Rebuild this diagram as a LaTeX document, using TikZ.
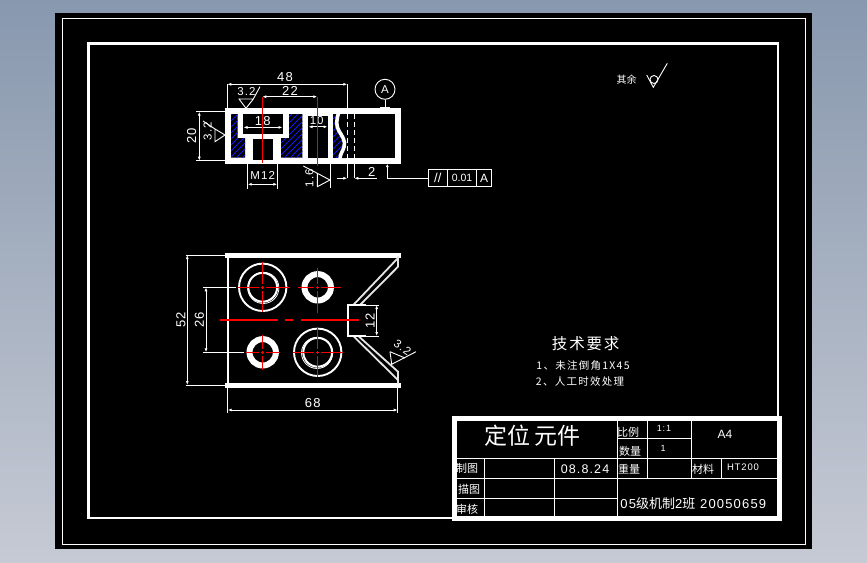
\documentclass[tikz,border=0pt]{standalone}
\usepackage{fontspec}
\setmainfont{Liberation Sans}
\newfontfamily\spaced[LetterSpace=9]{Liberation Sans}
\newfontfamily\cjk{Noto Sans CJK SC}
\newfontfamily\cjksp[LetterSpace=12]{Noto Sans CJK SC}
\usetikzlibrary{arrows.meta}
\definecolor{bgtop}{HTML}{8898AE}
\definecolor{bgbot}{HTML}{C6CAD4}
\definecolor{hatchblue}{HTML}{1414FF}
\tikzset{
  thinw/.style={draw=white,line width=0.9pt},
  band/.style={draw=white,line width=5pt},
  frameline/.style={draw=white,line width=2.6pt},
  centre/.style={draw=red,line width=1.1pt},
  tip/.style={draw=white,line width=0.9pt},
  dimline/.style={draw=white,line width=0.9pt,{Latex[length=4pt,width=3pt]}-{Latex[length=4pt,width=3pt]}},
  lab/.style={text=white,inner sep=0pt,font=\fontsize{13}{13}\spaced},
  small/.style={text=white,inner sep=0pt,font=\fontsize{11.5}{12}\spaced},
  cn/.style={text=white,inner sep=0pt,font=\fontsize{11}{11}\cjk},
  slant/.style={draw=white!90!black,line width=1.8pt},
}
\newcommand{\crossmark}[6]{% cx cy left right top bottom
  \draw[centre] (#3,#2) -- (#1-3.6,#2) (#1-1.6,#2) -- (#1+1.6,#2) (#1+3.6,#2) -- (#4,#2);
  \draw[centre] (#1,#5) -- (#1,#2-3.6) (#1,#2-1.6) -- (#1,#2+1.6) (#1,#2+3.6) -- (#1,#6);
}
\begin{document}
\begin{tikzpicture}[x=1pt,y=-1pt]
\useasboundingbox (0,0) rectangle (867,562);
\shade[top color=bgtop,bottom color=bgbot] (0,0) rectangle (867,562);
\fill[black] (55,13) rectangle (812,549);
\draw[thinw,line width=1pt] (62.3,18.3) rectangle (805,544);
\draw[frameline] (88.5,43.5) rectangle (778,518);

% ---------- top view ----------
\fill[white] (225,108) rectangle (400.5,164);
\fill[black] (243,114) rectangle (283,134);
\fill[black] (253.3,139) rectangle (272.7,160);
\fill[black] (308.3,116) rectangle (327.7,157.7);
\fill[black] (333,114) rectangle (395,157.7);
% hatched pockets
\begin{scope}
  \clip (231,114) -- (237.5,114) -- (237.5,138) -- (245,138) -- (245,157.7) -- (231,157.7) -- cycle;
  \fill[black] (225,108) rectangle (250,160);
  \foreach \c in {340,346,...,410} \draw[hatchblue,line width=0.9pt] (\c-165,165) -- (\c-105,105);
\end{scope}
\begin{scope}
  \clip (289,114) -- (302.3,114) -- (302.3,157.7) -- (281,157.7) -- (281,138) -- (289,138) -- cycle;
  \fill[black] (278,108) rectangle (305,160);
  \foreach \c in {400,406,...,470} \draw[hatchblue,line width=0.9pt] (\c-165,165) -- (\c-105,105);
\end{scope}
\begin{scope}
  \clip (333,114) rectangle (346,157.7);
  \foreach \c in {440,446,...,510} \draw[hatchblue,line width=0.9pt] (\c-165,165) -- (\c-105,105);
\end{scope}
% break line
\fill[black] (339,114) .. controls (336,120) and (336,126) .. (339,131) .. controls (342,136) and (346,141) .. (344,147) .. controls (343,151) and (340,154) .. (340,158) -- (346,158) -- (346,114) -- cycle;
\draw[white,line width=3.6pt] (339,112) .. controls (336,120) and (336,126) .. (339,131) .. controls (342,136) and (346,141) .. (344,147) .. controls (343,151) and (340,154) .. (340,159);
\draw[white,line width=1pt,dash pattern=on 5pt off 3pt] (347.3,114) -- (347.3,158);
\draw[white,line width=1pt,dash pattern=on 5pt off 3pt] (354.3,114) -- (354.3,158);
\draw[thinw] (347.3,84.3) -- (347.3,108) (347.3,164) -- (347.3,178.3);
\draw[thinw] (354.3,164) -- (354.3,178.3);
% dimensions inside the section
\draw[dimline] (243.5,127.4) -- (282.5,127.4);
\node[lab] (d18) at (262.7,120.8) {18};
\draw[dimline] (308.5,126.8) -- (327.5,126.8);
\node[small] (d10) at (316.7,120.6) {10};
% centre lines of the top view
\draw[centre] (262.3,97) -- (262.3,163);
\draw[centre] (317.3,97) -- (317.3,166);
% dimensions
\draw[thinw] (227.3,84.3) -- (227.3,108);
\draw[dimline] (227.3,84.3) -- (347.3,84.3);
\node[lab] (d48) at (285,77.3) {48};
\draw[dimline] (262.3,96.7) -- (317.3,96.7);
\node[lab] (d22) at (290,90.5) {22};
\draw[thinw] (196,111.7) -- (225,111.7) (196,160.7) -- (225,160.7);
\draw[dimline] (199.3,111.7) -- (199.3,160.7);
\node[lab,rotate=90] (d20) at (191.7,136) {20};
\draw[thinw] (247.7,164) -- (247.7,189) (277.3,164) -- (277.3,189);
\draw[dimline] (247.7,184.3) -- (277.3,184.3);
\node[small] (dm12) at (262.7,175.7) {M12};
% roughness symbols of the top view
\draw[thinw] (260,86.7) -- (253.3,99) -- (239,99) -- (246,108.3) -- (253.3,99);
\node[small] (r32a) at (246.5,92) {3.2};
\draw[thinw] (203,121) -- (215,129) -- (215,141.7) -- (225,135) -- (215,129);
\node[small,rotate=90] (r32b) at (207.7,131) {3.2};
\draw[thinw] (303.3,166) -- (317.3,173.3) -- (317.3,186.7) -- (330,180) -- (317.3,173.3);
\draw[thinw] (330.7,164) -- (330.7,188.3);
\node[small,rotate=90] (r16) at (309.3,178) {1.6};
% "2" dimension
\draw[thinw,-{Latex[length=4pt,width=3pt]}] (336.7,178.3) -- (347.3,178.3);
\draw[thinw,-{Latex[length=4pt,width=3pt]}] (376.7,178.3) -- (354.3,178.3);
\node[lab] (d2) at (371.7,171.5) {2};
% datum A
\node[circle,draw=white,line width=0.9pt,minimum size=20pt,inner sep=0pt,text=white,font=\fontsize{11.5}{11}\selectfont] (datum) at (385,89.3) {A};
\coordinate (dfoot) at (385,106.7);
\draw[thinw] (datum.south) -- (dfoot);
\draw[thinw] (380,107.3) -- (390,107.3);
% tolerance frame
\node[draw=white,line width=0.9pt,minimum width=19pt,minimum height=17.4pt,inner sep=0pt,text=white,font=\fontsize{13}{12}\selectfont] (t1) at (437.8,178) {//};
\node[draw=white,line width=0.9pt,minimum width=29.4pt,minimum height=17.4pt,inner sep=0pt,text=white,font=\fontsize{10.5}{11}\selectfont] (t2) at (462,178) {0.01};
\node[draw=white,line width=0.9pt,minimum width=15pt,minimum height=17.4pt,inner sep=0pt,text=white,font=\fontsize{12}{11}\selectfont] (t3) at (484.2,178) {A};
\coordinate (lead) at (387.3,164);
\draw[thinw,{Latex[length=3pt,width=3pt]}-] (lead) |- (t1.west);

% ---------- plan view ----------
\draw[band] (225,255) -- (400.5,255);
\draw[band] (225,385) -- (400.5,385);
\draw[draw=white,line width=2pt] (227.7,255) -- (227.7,385);
\draw[slant] (398,256) -- (398,266.7) -- (360,305);
\draw[slant] (398,258) -- (353.3,305);
\draw[slant] (398,384) -- (398,371.7) -- (358.3,336);
\draw[slant] (398,380) -- (353.3,336);
\draw[draw=white,line width=2.4pt] (366,305) -- (347.8,305) -- (347.8,336) -- (366,336);
\draw[thinw] (360,305) -- (379,305) (360,336) -- (379,336);
% holes
\draw[white,line width=1.9pt] (262.7,287.3) circle (23.7);
\draw[white,line width=2pt] (262.7,287.3) circle (14.4);
\draw[white,line width=0.8pt] (263.3,287.9) circle (15.6);
\draw[white,line width=1.9pt] (317.7,352.3) circle (23.7);
\draw[white,line width=2pt] (317.7,352.3) circle (14.4);
\draw[white,line width=0.8pt] (317.1,352.9) circle (15.6);
\draw[white,line width=6pt] (317.7,287.3) circle (13.2);
\draw[white,line width=6pt] (262.7,352.3) circle (13.2);
% centre lines
\crossmark{262.7}{287.3}{238.3}{290}{261.7}{311.7}
\crossmark{317.7}{287.3}{298.3}{341}{268}{312.7}
\crossmark{262.7}{352.3}{246}{280}{335}{370}
\crossmark{317.7}{352.3}{293.3}{343.3}{327.3}{377.3}
\draw[centre] (220,320) -- (278.3,320) (285,320) -- (293.3,320) (301,320) -- (359.3,320);
% plan dimensions
\draw[thinw] (185.7,255) -- (225,255) (185.7,385) -- (225,385);
\draw[dimline] (187.3,255) -- (187.3,385);
\node[lab,rotate=90] (d52) at (181,320) {52};
\draw[thinw] (203,287.3) -- (236,287.3) (203,352.3) -- (244,352.3);
\draw[dimline] (206,287.3) -- (206,352.3);
\node[lab,rotate=90] (d26) at (199.3,320) {26};
\draw[thinw] (227.7,386.7) -- (227.7,412.7) (397.7,386.7) -- (397.7,412.7);
\draw[dimline] (227.7,410) -- (397.7,410);
\node[lab] (d68) at (312.7,403) {68};
\draw[dimline] (376.7,305) -- (376.7,336);
\node[lab,rotate=90] (d12) at (370,320.7) {12};
% chamfer roughness symbol
\draw[thinw] (390,351.7) -- (391.7,364.3) -- (416,351.7);
\draw[thinw] (390,351.7) -- (405,358);
\node[small,rotate=-35] (r32c) at (402.5,347.5) {3.2};

% ---------- roughness note ----------
\node[cn,font=\fontsize{10}{10}\cjk] (rest) at (626.7,79.7) {其余};
\draw[thinw] (646.7,75) -- (653.3,87.3) -- (667.3,63.3);
\draw[thinw] (654,79.5) circle (4);

% ---------- requirements ----------
\node[text=white,inner sep=0pt,font=\fontsize{15.5}{15}\cjksp] (req) at (585.7,344) {技术要求};
\node[cn,font=\fontsize{10.5}{10}\cjksp] (req1) at (583,366) {1、未注倒角1X45};
\node[cn,font=\fontsize{10.5}{10}\cjksp] (req2) at (580,382) {2、人工时效处理};

% ---------- title block ----------
\draw[band] (454,418.7) rectangle (779.7,518.3);
\draw[thinw] (456,458.3) -- (778,458.3) (456,478.3) -- (778,478.3);
\draw[thinw] (456,498.3) -- (617.7,498.3) (617.7,438.3) -- (691.7,438.3);
\draw[thinw] (617.7,421) -- (617.7,516);
\draw[thinw] (647.3,421) -- (647.3,478.3) (691.7,421) -- (691.7,478.3);
\draw[thinw] (721.7,458.3) -- (721.7,478.3);
\draw[thinw] (484.3,458.3) -- (484.3,516) (554.3,458.3) -- (554.3,516);
\node[text=white,inner sep=0pt,font=\fontsize{23}{23}\cjk] (title) at (532.3,436) {定位\,元件};
\node[cn] (tb1) at (628,432) {比例};
\node[cn] (tb2) at (630,451.3) {数量};
\node[small,font=\fontsize{9}{9}\spaced] (tb3) at (664,428.3) {1:1};
\node[small,font=\fontsize{9}{9}\spaced] (tb4) at (663,448.3) {1};
\node[lab,font=\fontsize{12}{12}\selectfont] (tb5) at (725,434) {A4};
\node[cn] (tb6) at (467,468.3) {制图};
\node[cn] (tb7) at (469,489.3) {描图};
\node[cn] (tb8) at (467,509.3) {审核};
\node[lab,font=\fontsize{12.5}{12}\spaced] (tb9) at (585,469.3) {08.8.24};
\node[cn] (tb10) at (629,469.3) {重量};
\node[cn] (tb11) at (703,469) {材料};
\node[small,font=\fontsize{9.5}{9}\spaced] (tb12) at (743,467.3) {HT200};
\node[lab,font=\fontsize{13}{12}\spaced] (tb13) at (693.3,503.3) {05{\cjk 级机制}2{\cjk 班} 20050659};
\end{tikzpicture}
\end{document}
